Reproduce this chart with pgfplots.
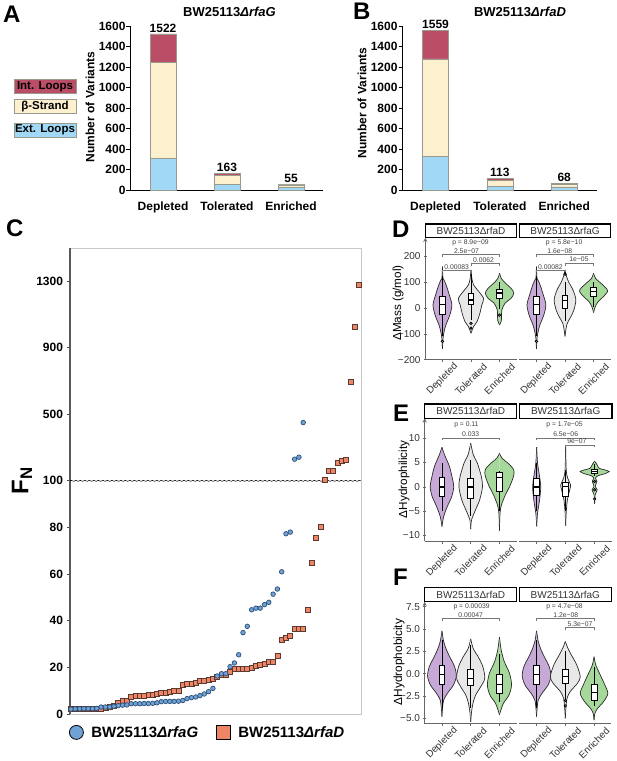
\documentclass[border=0pt]{standalone}
\usepackage{fontspec}
\setmainfont{Liberation Sans}
\usepackage{pgfplots}
\usepackage{pgfplotstable}
\pgfplotsset{compat=1.18}
\usepgfplotslibrary{statistics}
\usetikzlibrary{decorations.pathmorphing}
\newcommand\fs[1]{\fontsize{#1}{#1}\selectfont}

\definecolor{cint}{HTML}{B94E66}
\definecolor{cstr}{HTML}{FDF0CF}
\definecolor{cext}{HTML}{A0D8F5}
\definecolor{cedge}{HTML}{9A9A8C}
\definecolor{cblue}{HTML}{6FA3D6}
\definecolor{cblued}{HTML}{2F4F78}
\definecolor{cred}{HTML}{EE8566}
\definecolor{credd}{HTML}{5A3A30}
\definecolor{vdep}{HTML}{C6A9D6}
\definecolor{vtol}{HTML}{E8E8E8}
\definecolor{venr}{HTML}{A6D89C}
\definecolor{vedge}{HTML}{2A2A2A}
\definecolor{axgray}{HTML}{666666}
\definecolor{brgray}{HTML}{777777}

% panel C, sorted F_N values
\pgfplotstableread[row sep=\\]{v\\2.1\\2.2\\2.2\\2.3\\2.3\\2.3\\2.4\\3.0\\3.0\\3.0\\3.3\\3.6\\3.8\\3.9\\4.4\\4.4\\4.4\\4.5\\4.5\\4.6\\4.8\\5.3\\5.4\\5.4\\5.4\\5.5\\5.8\\6.6\\7.0\\7.3\\7.9\\8.6\\9.6\\11.0\\16.3\\17.3\\17.3\\20.3\\21.9\\25.4\\34.9\\37.6\\44.7\\45.4\\45.4\\46.9\\47.9\\51.4\\53.6\\61\\77.3\\78\\230\\242\\450\\}\fnG
\pgfplotstableread[row sep=\\]{v\\2.0\\2.0\\2.0\\2.0\\2.0\\2.0\\2.1\\2.4\\2.6\\3.0\\3.6\\4.7\\5.7\\5.8\\7.2\\7.9\\8.0\\8.0\\8.1\\8.1\\8.8\\9.0\\9.1\\9.5\\10\\10\\12.4\\13.1\\13.1\\13.4\\14.3\\14.4\\14.6\\15.1\\16\\16.6\\16.9\\17.9\\19.3\\19.3\\19.3\\19.4\\20\\20.6\\21\\21.7\\22.3\\22.4\\25\\31.9\\32.7\\33.6\\36.4\\36.7\\36.7\\44.7\\64.9\\75.6\\80.1\\104\\158\\158\\210\\222\\226\\694\\1026\\1274\\}\fnD

% violin outlines: y value and half width
\pgfplotstableread[row sep=\\]{y w\\159 0\\114 .02\\102 .08\\82 .15\\50 .24\\12 .33\\-27 .26\\-66 .12\\-91 .06\\-117 .02\\-158 0\\}\mDep
\pgfplotstableread[row sep=\\]{y w\\147 0\\114 .03\\89 .09\\69 .23\\37 .44\\12 .38\\-21 .31\\-53 .21\\-72 .09\\-98 0\\}\mDtol
\pgfplotstableread[row sep=\\]{y w\\134 0\\114 .06\\95 .21\\76 .40\\57 .50\\37 .40\\18 .19\\-8 .08\\-33 .07\\-50 .06\\-66 0\\}\mDenr
\pgfplotstableread[row sep=\\]{y w\\147 0\\130 .03\\102 .12\\69 .28\\31 .38\\-8 .31\\-33 .21\\-59 .08\\-85 .03\\-110 0\\}\mGtol
\pgfplotstableread[row sep=\\]{y w\\134 0\\114 .07\\95 .26\\76 .44\\63 .49\\44 .35\\24 .16\\5 .06\\-18 0\\}\mGenr

\pgfplotstableread[row sep=\\]{y w\\8.15 0\\6.6 .09\\4.2 .26\\1.8 .36\\0 .41\\-2 .34\\-4 .19\\-6.1 .06\\-8.15 0\\}\hDdep
\pgfplotstableread[row sep=\\]{y w\\9 0\\6.6 .09\\4.9 .23\\2.1 .37\\0 .41\\-2.7 .31\\-4.7 .17\\-6.8 .03\\-8.7 0\\}\hDtol
\pgfplotstableread[row sep=\\]{y w\\6.9 0\\5.9 .09\\4.9 .29\\3.8 .47\\2.9 .51\\1.8 .47\\0 .35\\-1.6 .21\\-3.7 .07\\-5.4 .02\\-9 0\\}\hDenr
\pgfplotstableread[row sep=\\]{y w\\8.15 0\\4.9 .03\\2.1 .10\\0 .14\\-2.7 .10\\-5.4 .03\\-8.15 0\\}\hGdep
\pgfplotstableread[row sep=\\]{y w\\8.3 0\\3.5 .02\\1.8 .07\\.4 .17\\-.6 .14\\-2.7 .06\\-5.2 .02\\-8 0\\}\hGtol
\pgfplotstableread[row sep=\\]{y w\\5.3 0\\4.5 .09\\3.8 .16\\3.5 .35\\3.15 .50\\2.7 .35\\2.3 .12\\1.8 .03\\1.1 .08\\.1 .02\\-.6 .09\\-1.6 .02\\-3.5 0\\}\hGenr

\pgfplotstableread[row sep=\\]{y w\\4.8 0\\3.6 .06\\2.65 .16\\1.7 .30\\.8 .44\\-.26 .50\\-1.27 .40\\-2.2 .19\\-2.95 .06\\-3.9 .02\\-4.8 0\\}\fDep
\pgfplotstableread[row sep=\\]{y w\\3.9 0\\2.8 .09\\1.9 .26\\.8 .42\\-.5 .49\\-1.45 .35\\-2.4 .17\\-3.3 .08\\-4.25 .03\\-5.4 0\\}\fDtol
\pgfplotstableread[row sep=\\]{y w\\4.1 0\\2.65 .06\\1.34 .17\\.04 .35\\-1.27 .42\\-2.4 .33\\-3.3 .14\\-4.07 .05\\-4.6 0\\}\fDenr
\pgfplotstableread[row sep=\\]{y w\\3.6 0\\2.85 .09\\2.1 .21\\.97 .40\\-.34 .52\\-1.08 .42\\-2 .17\\-2.76 .06\\-3.9 .02\\-5 0\\}\fGtol
\pgfplotstableread[row sep=\\]{y w\\1.9 0\\.97 .06\\.04 .19\\-1.08 .35\\-2.2 .48\\-3.13 .33\\-3.9 .12\\-4.44 .03\\-5.2 0\\}\fGenr

% pos, colour, table
\newcommand\vio[3]{%
  \addplot[fill=#2,draw=vedge,line width=.7pt,smooth,tension=.5] table[x expr={#1-\thisrow{w}},y=y]{#3};
  \addplot[fill=#2,draw=vedge,line width=.7pt,smooth,tension=.5] table[x expr={#1+\thisrow{w}},y=y]{#3};}
% pos, low whisker, q1, median, q3, high whisker, outliers
\newcommand\bxp[7]{%
  \addplot[black,line width=.8pt,mark=*,mark size=1.2pt,fill=white,
    boxplot/draw direction=y,
    boxplot/every median/.style={line width=1.3pt},
    boxplot prepared={draw position=#1,lower whisker=#2,lower quartile=#3,median=#4,
      upper quartile=#5,upper whisker=#6,box extend=.2,whisker extend=0}]
    coordinates {#7};}
\newcommand\brk[4]{\addplot[brgray,line width=.5pt] coordinates {(#1,#4)(#1,#3)(#2,#3)(#2,#4)};}
\newcommand\ptxt[3]{\node[font=\fs{6.8},text=black!75] at (axis cs:#1,#2) {#3};}
\newcommand\strip[5]{%
  \draw[line width=1.2pt,black] (#1pt,-#3pt) rectangle (#2pt,-#4pt);
  \node[font=\fs{10},text=black!80] at ({(#1+#2)/2*1pt},{-(#3+#4)/2*1pt}) {#5};}
\newcommand\letter[3]{\node[font=\fs{24}\bfseries,anchor=base west,inner sep=0] at (#1pt,-#2pt) {#3};}

\pgfplotsset{
  barax/.style={scale only axis,clip=false,ybar stacked,bar width=26pt,
    width=193pt,height=164pt,axis x line=bottom,axis y line=left,axis line style={-,line width=.8pt},
    xmin=-.516,xmax=2.5,ymin=0,ymax=1600,ytick={0,200,...,1600},
    xtick={0,1,2},xticklabels={Depleted,Tolerated,Enriched},x tick style={draw=none},
    y tick style={black,line width=.7pt},tick align=outside,major tick length=3.5pt,
    tick label style={font=\fs{12}\bfseries},
    xticklabel style={yshift=-5pt},yticklabel style={xshift=2.5pt},
    /pgf/number format/assume math mode=true,/pgf/number format/1000 sep={}},
  facet/.style={scale only axis,clip=false,xmin=.4,xmax=3.6,xtick={1,2,3},
    xticklabels={Depleted,Tolerated,Enriched},
    axis x line=bottom,axis line style={-,axgray,line width=.9pt},
    tick style={axgray,line width=.6pt},tick align=outside,major tick length=2.5pt,
    xticklabel style={font=\fs{9.8},text=black!80,yshift=-17pt,rotate=45,anchor=center},
    yticklabel style={font=\fs{10},text=black!80}},
  facetl/.style={facet,axis y line=left},
  facetr/.style={facet,axis y line=none}
}

\begin{document}
\begin{tikzpicture}
\path[use as bounding box] (0pt,0pt) rectangle (617pt,-761pt);

% A
\begin{axis}[barax,at={(130pt,-190pt)},anchor=south west]
\addplot[fill=cext,draw=cedge,line width=.4pt] coordinates {(0,310)(1,58)(2,25)};
\addplot[fill=cstr,draw=cedge,line width=.4pt] coordinates {(0,935)(1,87)(2,25)};
\addplot[fill=cint,draw=cedge,line width=.4pt] coordinates {(0,277)(1,18)(2,5)};
\node[font=\fs{12}\bfseries,anchor=south,inner sep=1.5pt] at (axis cs:0,1522) {1522};
\node[font=\fs{12}\bfseries,anchor=south,inner sep=1.5pt] at (axis cs:1,163) {163};
\node[font=\fs{12}\bfseries,anchor=south,inner sep=1.5pt] at (axis cs:2,55) {55};
\end{axis}
\node[font=\fs{13}\bfseries] at (229.5pt,-11.7pt) {BW25113\textit{ΔrfaG}};
\node[font=\fs{12}\bfseries,rotate=90] at (90pt,-107pt) {Number of Variants};
\node[fill=cint,draw=cedge,minimum width=62pt,minimum height=14pt,inner sep=0,font=\fs{11.5}\bfseries] at (45pt,-86.3pt) {Int. Loops};
\node[fill=cstr,draw=cedge,minimum width=62pt,minimum height=14pt,inner sep=0,font=\fs{11.5}\bfseries] at (45pt,-106.3pt) {β-Strand};
\node[fill=cext,draw=cedge,minimum width=62pt,minimum height=14pt,inner sep=0,font=\fs{11.5}\bfseries] at (45pt,-130pt) {Ext. Loops};

% B
\begin{axis}[barax,at={(402pt,-190pt)},anchor=south west,width=195pt,xmin=-.521,xmax=2.51]
\addplot[fill=cext,draw=cedge,line width=.4pt] coordinates {(0,330)(1,35)(2,30)};
\addplot[fill=cstr,draw=cedge,line width=.4pt] coordinates {(0,950)(1,60)(2,28)};
\addplot[fill=cint,draw=cedge,line width=.4pt] coordinates {(0,279)(1,18)(2,10)};
\node[font=\fs{12}\bfseries,anchor=south,inner sep=1.5pt] at (axis cs:0,1559) {1559};
\node[font=\fs{12}\bfseries,anchor=south,inner sep=1.5pt] at (axis cs:1,113) {113};
\node[font=\fs{12}\bfseries,anchor=south,inner sep=1.5pt] at (axis cs:2,68) {68};
\end{axis}
\node[font=\fs{13}\bfseries] at (520pt,-11.7pt) {BW25113\textit{ΔrfaD}};
\node[font=\fs{12}\bfseries,rotate=90] at (362pt,-103pt) {Number of Variants};

% C, y axis breaks at 100: 14 times coarser above it
\begin{axis}[at={(70pt,-714pt)},anchor=south west,scale only axis,clip=false,
  width=291pt,height=466pt,xmin=-.23,xmax=67.44,ymin=0,ymax=1498,
  y coord trafo/.code={\pgfmathparse{(#1<=100)*(#1)+(#1>100)*(100+((#1)-100)/14)}},
  y coord inv trafo/.code={\pgfmathparse{#1}},
  axis line style={black!22,line width=.9pt},xtick=\empty,
  ytick={0,20,40,60,80,100,500,900,1300},yticklabels={0,20,40,60,80,100,500,900,1300},
  y tick style={black!70,line width=.7pt},tick pos=left,tick align=outside,major tick length=3.5pt,
  tick label style={font=\fs{12}\bfseries},
  legend columns=2,legend cell align=left,
  legend style={at={(rel axis cs:-.013,0)},anchor=north west,yshift=-8pt,draw=none,fill=none,font=\fs{15}\bfseries,
    /tikz/every even column/.append style={column sep=15.7pt},
    /tikz/every odd column/.append style={column sep=6pt}}]
\draw[black!65,line width=1.1pt] (rel axis cs:0,0) -- (rel axis cs:0,1);
\addplot[forget plot,black,line width=.5pt,decorate,decoration={snake,amplitude=.5pt,segment length=4.5pt}] coordinates {(-.23,100)(67.44,100)};
\addplot[forget plot,only marks,mark=square*,mark size=2.5pt,mark options={fill=cred,draw=credd,line width=.7pt}] table[x expr=\coordindex,y=v] {\fnD};
\addplot[forget plot,only marks,mark=*,mark size=2.3pt,mark options={fill=cblue,draw=cblued,line width=.7pt}] table[x expr=\coordindex,y=v] {\fnG};
\addlegendimage{only marks,mark=*,mark size=7pt,mark options={fill=cblue,draw=black,line width=.8pt}}
\addlegendentry{BW25113\textit{ΔrfaG}}
\addlegendimage{only marks,mark=square*,mark size=7.2pt,mark options={fill=cred,draw=black,line width=.8pt}}
\addlegendentry{BW25113\textit{ΔrfaD}}
\end{axis}
\node[font=\fs{24}\bfseries,rotate=90] at (22pt,-481pt) {F\textsubscript{N}};

% D
\begin{axis}[facetl,at={(425.3pt,-359.7pt)},anchor=south west,width=91.4pt,height=122pt,ymin=-200,ymax=271,
  ytick={-200,-100,0,100,200},yticklabels={−200,−100,0,100,200}]
\vio{1}{vdep}{\mDep}\vio{2}{vtol}{\mDtol}\vio{3}{venr}{\mDenr}
\bxp{1}{-110}{-24}{13}{44}{124}{(0,-129)}
\bxp{2}{-47}{12}{31}{57}{130}{(0,-60)(0,-78)}
\bxp{3}{-5}{37}{58}{72}{100}{(0,-28)}
\brk{1}{3}{206}{197}\brk{2}{3}{172}{163}\brk{1}{2}{147}{138}
\ptxt{1.98}{250}{p = 8.9e−09}\ptxt{1.84}{220}{2.5e−07}\ptxt{2.44}{186}{0.0062}\ptxt{1.5}{157}{0.00083}
\end{axis}
\begin{axis}[facetr,at={(519.3pt,-359.7pt)},anchor=south west,width=91.4pt,height=122pt,ymin=-200,ymax=271]
\vio{1}{vdep}{\mDep}\vio{2}{vtol}{\mGtol}\vio{3}{venr}{\mGenr}
\bxp{1}{-110}{-24}{13}{44}{124}{(0,-129)}
\bxp{2}{-50}{-1}{28}{50}{100}{(0,130)}
\bxp{3}{5}{45}{64}{81}{100}{}
\brk{1}{3}{206}{197}\brk{2}{3}{172}{163}\brk{1}{2}{147}{138}
\ptxt{1.97}{250}{p = 5.8e−10}\ptxt{1.82}{220}{1.6e−08}\ptxt{2.49}{187}{1e−05}\ptxt{1.49}{157}{0.00082}
\end{axis}
\strip{425.3}{516.7}{224}{237.7}{BW25113ΔrfaD}
\strip{519.3}{610.7}{224}{237.7}{BW25113ΔrfaG}
\node[font=\fs{11.7},rotate=90] at (398pt,-303pt) {ΔMass (g/mol)};

% E
\begin{axis}[facetl,at={(424.7pt,-541.3pt)},anchor=south west,width=92pt,height=123pt,ymin=-11.2,ymax=14.1,
  ytick={-10,-5,0,5,10},yticklabels={−10,−5,0,5,10}]
\vio{1}{vdep}{\hDdep}\vio{2}{vtol}{\hDtol}\vio{3}{venr}{\hDenr}
\bxp{1}{-5}{-2}{0}{2}{4.9}{}
\bxp{2}{-6}{-2.3}{0}{1.7}{5.5}{}
\bxp{3}{-5}{-.9}{1.9}{2.9}{3.3}{}
\brk{1}{3}{10.1}{9.66}
\ptxt{1.85}{12.8}{p = 0.11}\ptxt{2}{10.8}{0.033}
\end{axis}
\begin{axis}[facetr,at={(519.3pt,-541.3pt)},anchor=south west,width=92.7pt,height=123pt,ymin=-11.2,ymax=14.1]
\vio{1}{vdep}{\hGdep}\vio{2}{vtol}{\hGtol}\vio{3}{venr}{\hGenr}
\bxp{1}{-5}{-1.8}{0}{1.8}{5}{}
\bxp{2}{-5}{-1.9}{.1}{1}{3.5}{}
\bxp{3}{2.2}{2.7}{3.2}{3.6}{4.6}{(0,1.1)(0,-.6)(0,-2.5)}
\brk{1}{3}{10.1}{9.66}\brk{2}{3}{8.6}{8.15}
\ptxt{1.96}{12.8}{p = 1.7e−05}\ptxt{2}{10.8}{6.5e−06}\ptxt{2.39}{9.3}{9e−07}
\end{axis}
\strip{424.7}{516.7}{404}{418.3}{BW25113ΔrfaD}
\strip{519.3}{612}{404}{418.3}{BW25113ΔrfaG}
\node[font=\fs{11.7},rotate=90] at (404pt,-479.3pt) {ΔHydrophilicity};

% F
\begin{axis}[facetl,at={(424.7pt,-723.7pt)},anchor=south west,width=92pt,height=122pt,ymin=-5.6,ymax=8.06,
  ytick={-5,-2.5,0,2.5,5,7.5},yticklabels={−5.0,−2.5,0.0,2.5,5.0,7.5}]
\vio{1}{vdep}{\fDep}\vio{2}{vtol}{\fDtol}\vio{3}{venr}{\fDenr}
\bxp{1}{-3.8}{-1.16}{-.07}{.93}{3.8}{}
\bxp{2}{-3.8}{-1.34}{-.56}{.5}{3.2}{}
\bxp{3}{-3.2}{-2.24}{-1.2}{-.04}{2.2}{}
\brk{1}{3}{6.19}{5.93}
\ptxt{2.03}{7.5}{p = 0.00039}\ptxt{2}{6.53}{0.00047}
\end{axis}
\begin{axis}[facetr,at={(519.3pt,-723.7pt)},anchor=south west,width=92pt,height=122pt,ymin=-5.6,ymax=8.06]
\vio{1}{vdep}{\fDep}\vio{2}{vtol}{\fGtol}\vio{3}{venr}{\fGenr}
\bxp{1}{-3.8}{-1.16}{-.07}{.93}{3.8}{}
\bxp{2}{-2.9}{-1.08}{-.34}{.5}{2.5}{(0,-3)(0,-3.6)}
\bxp{3}{-3.6}{-2.95}{-2.13}{-1.23}{.8}{}
\brk{1}{3}{6.19}{5.93}\brk{2}{3}{5.19}{4.93}
\ptxt{1.97}{7.5}{p = 4.7e−08}\ptxt{2.02}{6.53}{1.2e−08}\ptxt{2.51}{5.56}{5.3e−07}
\end{axis}
\strip{424.7}{516.7}{587.3}{601.7}{BW25113ΔrfaD}
\strip{519.3}{611.3}{587.3}{601.7}{BW25113ΔrfaG}
\node[font=\fs{11.85},rotate=90] at (399pt,-662pt) {ΔHydrophobicity};

\letter{3}{22}{A}\letter{353}{19}{B}\letter{6}{236}{C}\letter{392}{237}{D}\letter{393}{421}{E}\letter{393}{585}{F}
\end{tikzpicture}
\end{document}
